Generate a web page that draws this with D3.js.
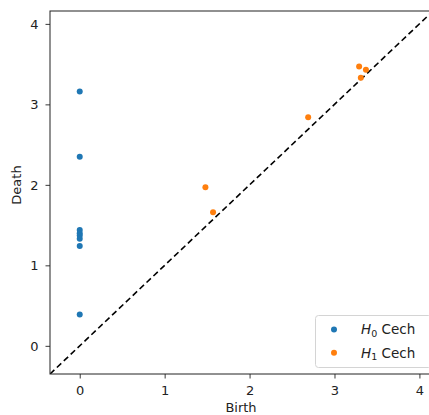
<!DOCTYPE html>
<html>
<head>
<meta charset="utf-8">
<script src="https://cdn.jsdelivr.net/npm/d3@7"></script>
<style>
  html, body { margin: 0; padding: 0; background: #fff; }
  svg { display: block; font-family: "DejaVu Sans", sans-serif; }
</style>
</head>
<body>
<svg id="chart" width="429" height="415"></svg>
<script>
// Persistence diagram: birth/death pairs for H0 and H1 (Cech complex)
const h0Birth = [0, 0, 0, 0, 0, 0, 0, 0];
const h0Death = [3.16, 2.35, 1.44, 1.40, 1.37, 1.33, 1.24, 0.39];
const h1Birth = [1.48, 1.57, 2.69, 3.29, 3.37, 3.31];
const h1Death = [1.97, 1.66, 2.84, 3.47, 3.43, 3.33];
const tickValues = [0, 1, 2, 3, 4];
const axisLimits = [-0.35, 4.16];
const seriesNames = ["0", "1"];
const seriesColors = ["#1f77b4", "#ff7f0e"];

const svg = d3.select("#chart");
const margin = { left: 50, top: 11, right: 433, bottom: 374 };

const x = d3.scaleLinear().domain(axisLimits).range([margin.left, margin.right]);
const y = d3.scaleLinear().domain(axisLimits).range([margin.bottom, margin.top]);

svg.append("defs").append("clipPath").attr("id", "plotclip")
  .append("rect")
  .attr("x", margin.left).attr("y", margin.top)
  .attr("width", margin.right - margin.left)
  .attr("height", margin.bottom - margin.top);

const plot = svg.append("g").attr("clip-path", "url(#plotclip)");

// Diagonal birth = death
plot.append("line")
  .attr("x1", x(axisLimits[0])).attr("y1", y(axisLimits[0]))
  .attr("x2", x(axisLimits[1])).attr("y2", y(axisLimits[1]))
  .attr("stroke", "#000").attr("stroke-width", 1.6)
  .attr("stroke-dasharray", "6,3.5");

const series = [
  { birth: h0Birth, death: h0Death, color: seriesColors[0] },
  { birth: h1Birth, death: h1Death, color: seriesColors[1] }
];

series.forEach(s => {
  plot.append("g").selectAll("circle")
    .data(s.birth.map((b, i) => [b, s.death[i]]))
    .join("circle")
    .attr("cx", d => x(d[0]))
    .attr("cy", d => y(d[1]))
    .attr("r", 3)
    .attr("fill", s.color);
});

// Axes
const xAxis = svg.append("g")
  .attr("transform", `translate(0,${margin.bottom})`)
  .call(d3.axisBottom(x).tickValues(tickValues).tickFormat(d3.format("d")).tickSize(4.5).tickPadding(7.3));
const yAxis = svg.append("g")
  .attr("transform", `translate(${margin.left},0)`)
  .call(d3.axisLeft(y).tickValues(tickValues).tickFormat(d3.format("d")).tickSize(4.5).tickPadding(7));

[xAxis, yAxis].forEach(a => {
  a.select(".domain").remove();
  a.selectAll("text").attr("font-size", 13).attr("fill", "#222").attr("font-family", "DejaVu Sans");
  a.selectAll("line").attr("stroke", "#222").attr("stroke-width", 0.9);
});

// Frame
svg.append("rect")
  .attr("x", margin.left).attr("y", margin.top)
  .attr("width", margin.right - margin.left)
  .attr("height", margin.bottom - margin.top)
  .attr("fill", "none").attr("stroke", "#222").attr("stroke-width", 1);

// Axis labels
svg.append("text")
  .attr("x", 241).attr("y", 411.5)
  .attr("text-anchor", "middle").attr("font-size", 13).attr("fill", "#222")
  .text("Birth");
svg.append("text")
  .attr("transform", "translate(21,185) rotate(-90)")
  .attr("text-anchor", "middle").attr("font-size", 13).attr("fill", "#222")
  .text("Death");

// Legend
const legend = svg.append("g");
legend.append("rect")
  .attr("x", 315.5).attr("y", 315.5).attr("width", 116).attr("height", 52)
  .attr("rx", 3).attr("fill", "#fff").attr("fill-opacity", 0.85)
  .attr("stroke", "#d4d4d4");
seriesNames.forEach((n, i) => {
  const cy = 329.5 + i * 23.3;
  legend.append("circle").attr("cx", 334).attr("cy", cy).attr("r", 3).attr("fill", seriesColors[i]);
  const t = legend.append("text").attr("x", 361).attr("y", cy + 4.8)
    .attr("font-size", 13.5).attr("fill", "#222");
  t.append("tspan").attr("font-style", "italic").text("H");
  t.append("tspan").attr("font-size", 9.5).attr("dy", 2.5).text(n);
  t.append("tspan").attr("dy", -2.5).text(" Cech");
});
</script>
</body>
</html>
